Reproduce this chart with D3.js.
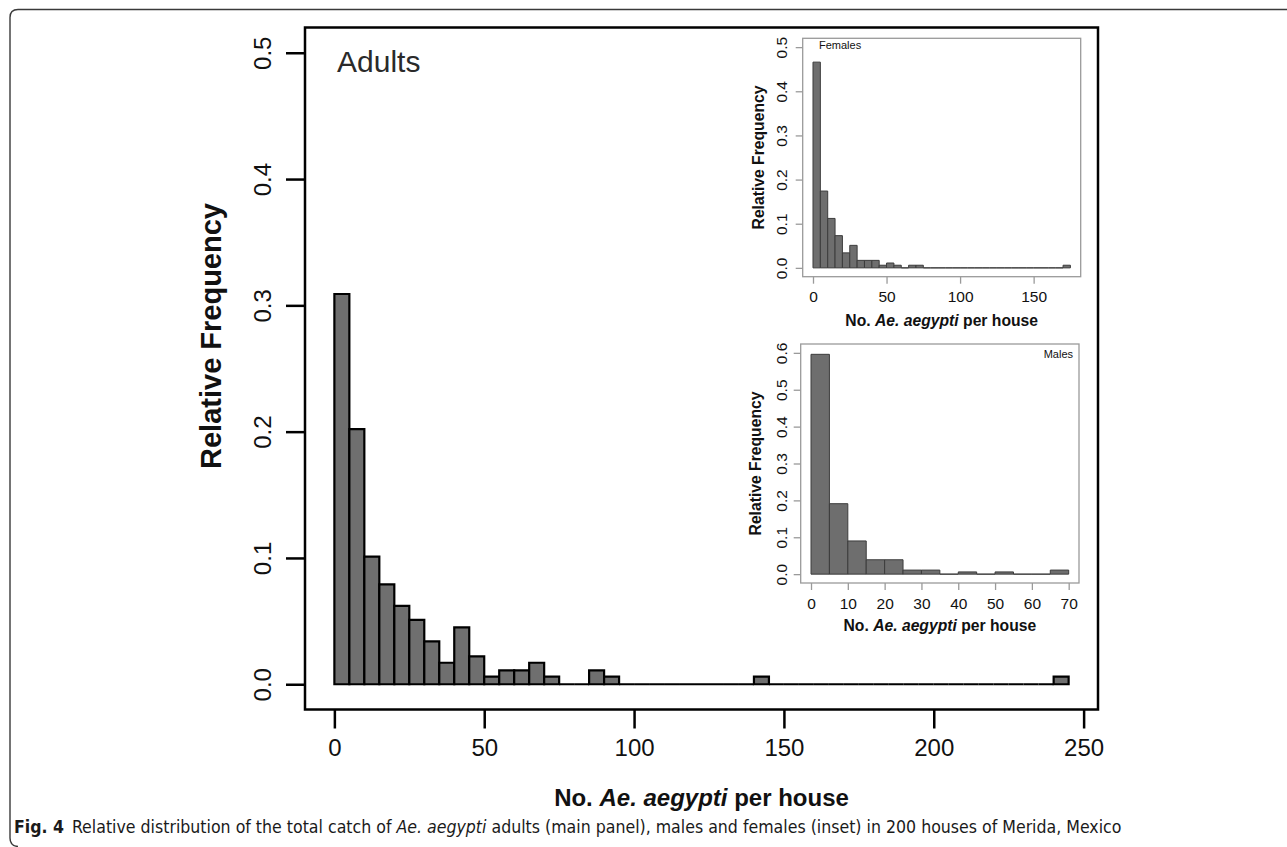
<!DOCTYPE html>
<html>
<head>
<meta charset="utf-8">
<script src="https://cdn.jsdelivr.net/npm/d3@7"></script>
<style>
  html, body { margin: 0; padding: 0; background: #fff; }
  svg { display: block; }
</style>
</head>
<body>
<svg id="fig" width="1287" height="847"></svg>
<script>
// ---- data (relative frequency per 5-unit bin) ----
const binWidth = 5;

// all adults, bins 0-5 ... 240-245
const adultFreq = [
  0.309, 0.202, 0.101, 0.079, 0.062, 0.051, 0.034, 0.017, 0.045, 0.022,
  0.006, 0.011, 0.011, 0.017, 0.006, 0, 0, 0.011, 0.006, 0,
  0, 0, 0, 0, 0, 0, 0, 0, 0.006, 0,
  0, 0, 0, 0, 0, 0, 0, 0, 0, 0,
  0, 0, 0, 0, 0, 0, 0, 0, 0.006
];

// females, bins 0-5 ... 170-175
const femaleFreq = [
  0.466, 0.174, 0.112, 0.073, 0.034, 0.051, 0.017, 0.017, 0.017, 0.006,
  0.011, 0.006, 0, 0.006, 0.006, 0, 0, 0, 0, 0,
  0, 0, 0, 0, 0, 0, 0, 0, 0, 0,
  0, 0, 0, 0, 0.006
];

// males, bins 0-5 ... 65-70
const maleFreq = [
  0.596, 0.191, 0.090, 0.039, 0.039, 0.011, 0.011, 0, 0.006, 0,
  0.006, 0, 0, 0.011
];

const adultXTicks = [0, 50, 100, 150, 200, 250];
const adultYTicks = [0, 0.1, 0.2, 0.3, 0.4, 0.5];
const femaleXTicks = [0, 50, 100, 150];
const femaleYTicks = [0, 0.1, 0.2, 0.3, 0.4, 0.5];
const maleXTicks = [0, 10, 20, 30, 40, 50, 60, 70];
const maleYTicks = [0, 0.1, 0.2, 0.3, 0.4, 0.5, 0.6];

const FONT = "'Liberation Sans', Arial, Helvetica, sans-serif";

const svg = d3.select("#fig");

// ---- page frame (rounded top-left / bottom-left, like the journal figure box) ----
svg.append("path")
  .attr("d", "M1287,9.5 L18,9.5 Q10,9.5 10,17.5 L10,838 Q10,846 18,846.5")
  .attr("fill", "none")
  .attr("stroke", "#3a3a3a")
  .attr("stroke-width", 1.4);

// R-like histogram panel: plot region box, bars, ticks, labels
function drawPanel(cfg) {
  const nBins = cfg.freq.length;
  const xMax = nBins * binWidth;
  const xPad = 0.04 * xMax;
  const yPad = 0.04 * cfg.yMax;

  const x = d3.scaleLinear()
    .domain([-xPad, xMax + xPad])
    .range([cfg.box.x0, cfg.box.x1]);
  const y = d3.scaleLinear()
    .domain([-yPad, cfg.yMax + yPad])
    .range([cfg.box.y1, cfg.box.y0]);

  const g = svg.append("g").attr("class", cfg.name);

  // bars as closed paths, so empty bins still show as a line on the baseline (as in R's hist)
  g.selectAll("path.bar")
    .data(cfg.freq)
    .join("path")
    .attr("class", "bar")
    .attr("d", (d, i) => {
      const xa = x(i * binWidth), xb = x((i + 1) * binWidth);
      return `M${xa},${y(0)}V${y(d)}H${xb}V${y(0)}Z`;
    })
    .attr("fill", cfg.barFill)
    .attr("stroke", cfg.barStroke)
    .attr("stroke-width", cfg.barStrokeWidth)
    .attr("stroke-linejoin", "miter");

  // box
  g.append("rect")
    .attr("x", cfg.box.x0)
    .attr("y", cfg.box.y0)
    .attr("width", cfg.box.x1 - cfg.box.x0)
    .attr("height", cfg.box.y1 - cfg.box.y0)
    .attr("fill", "none")
    .attr("stroke", cfg.boxStroke)
    .attr("stroke-width", cfg.boxWidth);

  // x axis
  const xAxis = g.append("g")
    .attr("transform", `translate(0,${cfg.box.y1})`)
    .call(d3.axisBottom(x)
      .tickValues(cfg.xTicks)
      .tickSize(cfg.tickLen)
      .tickPadding(0)
      .tickFormat(d3.format("d")));
  xAxis.select(".domain").remove();
  xAxis.selectAll("line")
    .attr("stroke", cfg.boxStroke)
    .attr("stroke-width", cfg.boxWidth);
  xAxis.selectAll("text")
    .attr("y", cfg.xLabelOffset)
    .attr("dy", null)
    .attr("fill", "#111")
    .style("font-family", FONT)
    .style("font-size", cfg.tickFont + "px");

  // y axis, labels parallel to the axis
  const yAxis = g.append("g")
    .attr("transform", `translate(${cfg.box.x0},0)`)
    .call(d3.axisLeft(y)
      .tickValues(cfg.yTicks)
      .tickSize(cfg.tickLen)
      .tickFormat(d3.format(".1f")));
  yAxis.select(".domain").remove();
  yAxis.selectAll("line")
    .attr("stroke", cfg.boxStroke)
    .attr("stroke-width", cfg.boxWidth);
  yAxis.selectAll("text")
    .attr("x", null)
    .attr("dy", "0.36em")
    .attr("text-anchor", "middle")
    .attr("transform", `translate(${-cfg.yLabelOffset},0) rotate(-90)`)
    .attr("fill", "#111")
    .style("font-family", FONT)
    .style("font-size", cfg.yTickFont + "px");

  // axis titles
  const xt = g.append("text")
    .attr("x", (cfg.box.x0 + cfg.box.x1) / 2)
    .attr("y", cfg.xTitleY)
    .attr("text-anchor", "middle")
    .attr("fill", "#111")
    .style("font-family", FONT)
    .style("font-weight", "bold")
    .style("font-size", cfg.titleFont + "px");
  xt.append("tspan").text("No. ");
  xt.append("tspan").style("font-style", "italic").text("Ae. aegypti");
  xt.append("tspan").text(" per house");

  g.append("text")
    .attr("transform", `translate(${cfg.yTitleX},${cfg.yTitleY}) rotate(-90)`)
    .attr("dy", "0.36em")
    .attr("text-anchor", "middle")
    .attr("fill", "#111")
    .style("font-family", FONT)
    .style("font-weight", "bold")
    .style("font-size", cfg.yTitleFont + "px")
    .text("Relative Frequency");

  return g;
}

// ---- main panel: adults ----
const mainPanel = drawPanel({
  name: "adults",
  freq: adultFreq,
  yMax: 0.5,
  xTicks: adultXTicks,
  yTicks: adultYTicks,
  box: { x0: 305, x1: 1098, y0: 27.5, y1: 709.5 },
  barFill: "#6f6f6f",
  barStroke: "#000",
  barStrokeWidth: 2.2,
  boxStroke: "#000",
  boxWidth: 2.5,
  tickLen: 19,
  tickFont: 24,
  yTickFont: 24,
  xLabelOffset: 46,
  yLabelOffset: 43,
  titleFont: 24,
  yTitleFont: 29,
  xTitleY: 806,
  yTitleX: 211,
  yTitleY: 336
});

mainPanel.append("text")
  .attr("x", 337)
  .attr("y", 72)
  .attr("fill", "#2a2a2a")
  .style("font-family", FONT)
  .style("font-size", "30px")
  .text("Adults");

// ---- inset: females ----
const femalePanel = drawPanel({
  name: "females",
  freq: femaleFreq,
  yMax: 0.5,
  xTicks: femaleXTicks,
  yTicks: femaleYTicks,
  box: { x0: 802.7, x1: 1080.7, y0: 38.3, y1: 276.7 },
  barFill: "#6e6e6e",
  barStroke: "#3c3c3c",
  barStrokeWidth: 1,
  boxStroke: "#9a9a9a",
  boxWidth: 1.3,
  tickLen: 7,
  tickFont: 15.5,
  yTickFont: 15.5,
  xLabelOffset: 25.5,
  yLabelOffset: 21,
  titleFont: 15.7,
  yTitleFont: 15.7,
  xTitleY: 325.5,
  yTitleX: 758,
  yTitleY: 157.5
});

femalePanel.append("text")
  .attr("x", 819)
  .attr("y", 49)
  .attr("fill", "#111")
  .style("font-family", FONT)
  .style("font-size", "11px")
  .text("Females");

// ---- inset: males ----
const malePanel = drawPanel({
  name: "males",
  freq: maleFreq,
  yMax: 0.6,
  xTicks: maleXTicks,
  yTicks: maleYTicks,
  box: { x0: 800.7, x1: 1079, y0: 344, y1: 583 },
  barFill: "#6e6e6e",
  barStroke: "#3c3c3c",
  barStrokeWidth: 1,
  boxStroke: "#9a9a9a",
  boxWidth: 1.3,
  tickLen: 7,
  tickFont: 15.5,
  yTickFont: 15.5,
  xLabelOffset: 25.5,
  yLabelOffset: 19,
  titleFont: 15.7,
  yTitleFont: 15.7,
  xTitleY: 630.5,
  yTitleX: 755,
  yTitleY: 463.5
});

malePanel.append("text")
  .attr("x", 1073)
  .attr("y", 358)
  .attr("text-anchor", "end")
  .attr("fill", "#111")
  .style("font-family", FONT)
  .style("font-size", "11px")
  .text("Males");

// ---- caption ----
const caption = svg.append("text")
  .attr("x", 14)
  .attr("y", 833)
  .attr("fill", "#1a1a1a")
  .style("font-family", "'Liberation Sans Narrow', 'DejaVu Sans Condensed', 'Noto Sans', sans-serif")
  .style("font-size", "15px");
caption.append("tspan").style("font-weight", "bold").text("Fig. 4");
caption.append("tspan").text("\u2002Relative distribution of the total catch of ");
caption.append("tspan").style("font-style", "italic").text("Ae. aegypti");
caption.append("tspan").text(" adults (main panel), males and females (inset) in 200 houses of Merida, Mexico");

// fit caption to the width it has in the figure
const capTarget = 1108;
const capLen = caption.node().getComputedTextLength();
caption.style("font-size", (15 * capTarget / capLen).toFixed(2) + "px");
</script>
</body>
</html>
